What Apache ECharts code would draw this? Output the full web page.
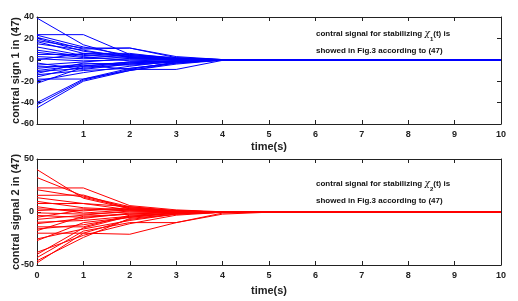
<!DOCTYPE html>
<html>
<head>
<meta charset="utf-8">
<script src="https://cdn.jsdelivr.net/npm/echarts@6/dist/echarts.min.js"></script>
<style>html,body{margin:0;padding:0;background:#fff;}#c{width:518px;height:301px;}</style>
</head>
<body>
<div id="c"></div>
<script>
const times = [0,1,2,3,4,5,6,7,8,9,10];
const xTicks = [0,1,2,3,4,5,6,7,8,9,10];
const yTicks1 = [-60,-40,-20,0,20,40];
const yTicks2 = [-50,0,50];
// control signal 1 (one row per trajectory, values at each time)
const signal1 = [
  [39,14,2,0.5,0.1,0,0,0,0,0,0],
  [23.5,23.5,5,1,0.1,0,0,0,0,0,0],
  [23,12,4,1,0.1,0,0,0,0,0,0],
  [21,10,11,2,0.2,0,0,0,0,0,0],
  [20,8,3,0.5,0,0,0,0,0,0,0],
  [18,11,11,3,0.2,0,0,0,0,0,0],
  [17,6,6,1,0.1,0,0,0,0,0,0],
  [15,9,2,0.3,0,0,0,0,0,0,0],
  [12,4,5,2,0.2,0,0,0,0,0,0],
  [9,3,-1,0,0,0,0,0,0,0,0],
  [7,2,4,1,0.1,0,0,0,0,0,0],
  [5,5,1,0.3,0,0,0,0,0,0,0],
  [3,1,2,0.5,0,0,0,0,0,0,0],
  [1,-1,0,0,0,0,0,0,0,0,0],
  [0,6,3,1,0.1,0,0,0,0,0,0],
  [-3,-9,-4,-1,-0.1,0,0,0,0,0,0],
  [-5,-2,1,0,0,0,0,0,0,0,0],
  [-6.5,-6,-2,-1,0,0,0,0,0,0,0],
  [-8,-4,-3,-1,0,0,0,0,0,0,0],
  [-10,-5,-9,-9,-0.5,0,0,0,0,0,0],
  [-11,-8,-4,-2,-0.2,0,0,0,0,0,0],
  [-12.7,-3,-5,-2,-0.2,0,0,0,0,0,0],
  [-14,-10,-8,-3,-0.3,0,0,0,0,0,0],
  [-16,-6,-2,-1,0,0,0,0,0,0,0],
  [-18,-18,-8,-3,-0.2,0,0,0,0,0,0],
  [-19.6,-12,-6,-1,0,0,0,0,0,0,0],
  [-22,-7,-3,-1,0,0,0,0,0,0,0],
  [-40,-18,-10,-3,-0.3,0,0,0,0,0,0],
  [-42,-19,-9,-2,-0.2,0,0,0,0,0,0],
  [-45,-20,-10,-4,-0.3,0,0,0,0,0,0]
];
// control signal 2
const signal2 = [
  [40,13,3,1,0.1,0,0,0,0,0,0],
  [32.5,15,5,1,0.1,0,0,0,0,0,0],
  [22.7,22.7,6,2,0.2,0,0,0,0,0,0],
  [21,14,4,1,0.1,0,0,0,0,0,0],
  [15.7,16,3,0.5,0,0,0,0,0,0,0],
  [13.5,8,2,1,0.1,0,0,0,0,0,0],
  [10,4,2,0.5,0,0,0,0,0,0,0],
  [8,8,5,1,0.1,0,0,0,0,0,0],
  [5,-1,2,0,0,0,0,0,0,0,0],
  [3,1,4,1,0.1,0,0,0,0,0,0],
  [1.4,3,1,0,0,0,0,0,0,0,0],
  [-0.8,-2,0,0,0,0,0,0,0,0,0],
  [-3.3,-5,-2,0,0,0,0,0,0,0,0],
  [-5,2,3,0.5,0,0,0,0,0,0,0],
  [-7,-3,1,0,0,0,0,0,0,0,0],
  [-9.7,-8,-4,-1,0,0,0,0,0,0,0],
  [-11,-6,-1,0,0,0,0,0,0,0,0],
  [-14,-14,-3,-1,0,0,0,0,0,0,0],
  [-16,-12,-5,-1,0,0,0,0,0,0,0],
  [-17.6,-4,-2,-0.5,0,0,0,0,0,0,0],
  [-20,-20,-21,-10,-2,-0.2,0,0,0,0,0],
  [-25.4,-16,-8,-2,-0.2,0,0,0,0,0,0],
  [-27,-10,-5,-1,0,0,0,0,0,0,0],
  [-38,-22,-11,-3,-0.3,0,0,0,0,0,0],
  [-40,-15,-4,-1,0,0,0,0,0,0,0],
  [-43,-18,-10,-10,-1,0,0,0,0,0,0],
  [-46,-24,-6,-2,-0.2,0,0,0,0,0,0],
  [-48,-20,-7,-2,-0.2,0,0,0,0,0,0]
];
const xName = 'time(s)';
const yName1 = 'contral sign 1 in (47)';
const yName2 = 'contral signal 2 in (47)';
const note1a = 'contral signal for stabilizing ';
const note1b = 'showed in Fig.3 according to (47)';

const FONT = '"Liberation Sans", Arial, sans-serif';
const chart = echarts.init(document.getElementById('c'), null, {renderer: 'canvas'});

function xAxisPair(gi, showZero, gap) {
  const base = {
    type: 'value', gridIndex: gi, min: xTicks[0], max: xTicks[xTicks.length-1], interval: 1,
    axisLine: {show: true, onZero: false, lineStyle: {color: '#222', width: 1}},
    axisTick: {show: true, inside: true, length: 4, lineStyle: {color: '#222'}},
    splitLine: {show: false}
  };
  return [
    Object.assign({}, base, {
      position: 'bottom',
      name: xName, nameLocation: 'middle', nameGap: gap, nameMoveOverlap: false,
      nameTextStyle: {fontFamily: FONT, fontWeight: 'bold', fontSize: 11, color: '#222', verticalAlign: 'top'},
      axisLabel: {show: true, margin: 6, fontFamily: FONT, fontWeight: 'bold', fontSize: 9, color: '#222',
        formatter: v => (v === 0 && !showZero) ? '' : String(v)}
    }),
    Object.assign({}, base, {position: 'top', axisLabel: {show: false}})
  ];
}
function yAxisPair(gi, ticks, name, gap) {
  const base = {
    type: 'value', gridIndex: gi, min: ticks[0], max: ticks[ticks.length-1],
    interval: ticks[1]-ticks[0],
    axisLine: {show: true, onZero: false, lineStyle: {color: '#222', width: 1}},
    axisTick: {show: true, inside: true, length: 4, lineStyle: {color: '#222'}},
    splitLine: {show: false}
  };
  return [
    Object.assign({}, base, {
      position: 'left', name: name, nameLocation: 'middle', nameGap: gap, nameRotate: 90, nameMoveOverlap: false,
      nameTextStyle: {fontFamily: FONT, fontWeight: 'bold', fontSize: 11, color: '#222'},
      axisLabel: {show: true, margin: 3, fontFamily: FONT, fontWeight: 'bold', fontSize: 9, color: '#222'}
    }),
    Object.assign({}, base, {position: 'right', axisLabel: {show: false}})
  ];
}

const series = [];
signal1.forEach(row => series.push({
  type: 'line', xAxisIndex: 0, yAxisIndex: 0, symbol: 'none', silent: true,
  lineStyle: {color: '#0000ff', width: 1}, data: times.map((t, i) => [t, row[i]])
}));
signal2.forEach(row => series.push({
  type: 'line', xAxisIndex: 2, yAxisIndex: 2, symbol: 'none', silent: true,
  lineStyle: {color: '#ff0000', width: 1}, data: times.map((t, i) => [t, row[i]])
}));

function note(top, sub) {
  return {
    type: 'text', left: 316, top: top, silent: true,
    style: {
      text: '{a|' + note1a + '}{c|χ}{s|' + sub + '}{a|(t) is}\n{a|' + note1b + '}',
      lineHeight: 17,
      rich: {
        a: {fontFamily: FONT, fontWeight: 'bold', fontSize: 8, fill: '#111', lineHeight: 17},
        c: {fontFamily: '"DejaVu Serif", serif', fontStyle: 'italic', fontSize: 9, fill: '#111', lineHeight: 17},
        s: {fontFamily: FONT, fontWeight: 'bold', fontSize: 6, fill: '#111', lineHeight: 17, verticalAlign: 'bottom', padding: [6,0,0,0]}
      }
    }
  };
}

chart.setOption({
  animation: false,
  backgroundColor: '#fff',
  grid: [
    {left: 37, top: 17, width: 464, height: 107, outerBoundsMode: 'none', containLabel: false},
    {left: 37, top: 159, width: 464, height: 106, outerBoundsMode: 'none', containLabel: false}
  ],
  xAxis: [].concat(xAxisPair(0, false, 17), xAxisPair(1, true, 20)),
  yAxis: [].concat(yAxisPair(0, yTicks1, yName1, 16), yAxisPair(1, yTicks2, yName2, 16)),
  series: series,
  graphic: [note(25, '1'), note(175, '2')]
});
</script>
</body>
</html>
